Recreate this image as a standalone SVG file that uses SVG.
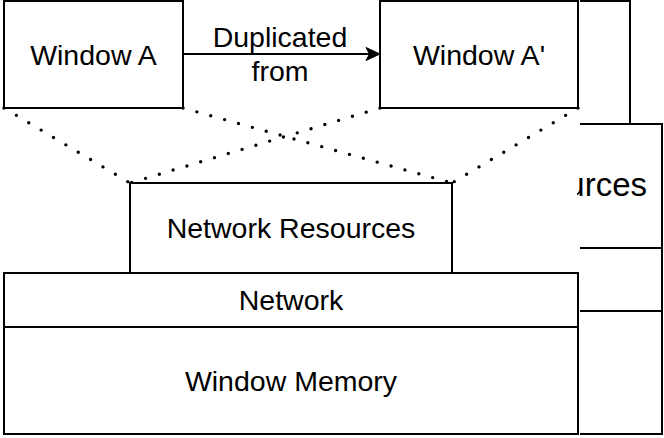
<svg xmlns="http://www.w3.org/2000/svg" width="664" height="438" viewBox="0 0 664 438">
  <defs>
    <style>
      .box { fill: #ffffff; stroke: #000000; stroke-width: 2; }
      .ln { fill: none; stroke: #000000; stroke-width: 2; }
      .dot { fill: none; stroke: #000000; stroke-width: 3.4; stroke-linecap: round; stroke-dasharray: 0 14.4; }
      .t { font-family: "Liberation Sans", Arial, sans-serif; font-size: 28.5px; fill: #000000; text-anchor: middle; }
    </style>
    <clipPath id="bgclip">
      <rect x="577" y="0" width="87" height="438"/>
    </clipPath>
  </defs>
  <rect x="0" y="0" width="664" height="438" fill="#ffffff"/>

  <!-- background copy, partially hidden -->
  <g id="background-copy">
    <path class="ln" d="M580,1 H630 V124 M580,124 H662 V434 H580 M580,248 H662 M580,311 H662"/>
    <g clip-path="url(#bgclip)">
      <text class="t" x="647" y="196" style="text-anchor:end;font-size:33px">Network Resources</text>
    </g>
  </g>

  <g id="connectors">
    <path class="dot" d="M4,108 L130,183"/>
    <path class="dot" d="M183,108 L452,183"/>
    <path class="dot" d="M380,108 L130,183"/>
    <path class="dot" d="M578,108 L452,183"/>
    <g id="edge-duplicated">
      <path class="ln" d="M183,54 H370"/>
      <path d="M380,54 L366,47.5 L369.5,54 L366,60.5 Z" fill="#000000" stroke="#000000" stroke-width="1"/>
      <text class="t" x="280" y="47">Duplicated</text>
      <text class="t" x="280" y="81">from</text>
    </g>
  </g>

  <g id="window-a">
    <rect class="box" x="4" y="1" width="179" height="107"/>
    <text class="t" x="93.5" y="65">Window A</text>
  </g>
  <g id="window-a-prime">
    <rect class="box" x="380" y="1" width="198" height="107"/>
    <text class="t" x="479" y="65">Window A'</text>
  </g>
  <g id="network-resources">
    <rect class="box" x="130" y="183" width="322" height="90"/>
    <text class="t" x="291" y="238">Network Resources</text>
  </g>
  <g id="network">
    <rect class="box" x="4" y="273" width="574" height="54"/>
    <text class="t" x="291" y="310">Network</text>
  </g>
  <g id="window-memory">
    <rect class="box" x="4" y="327" width="574" height="107"/>
    <text class="t" x="291" y="391">Window Memory</text>
  </g>
</svg>
